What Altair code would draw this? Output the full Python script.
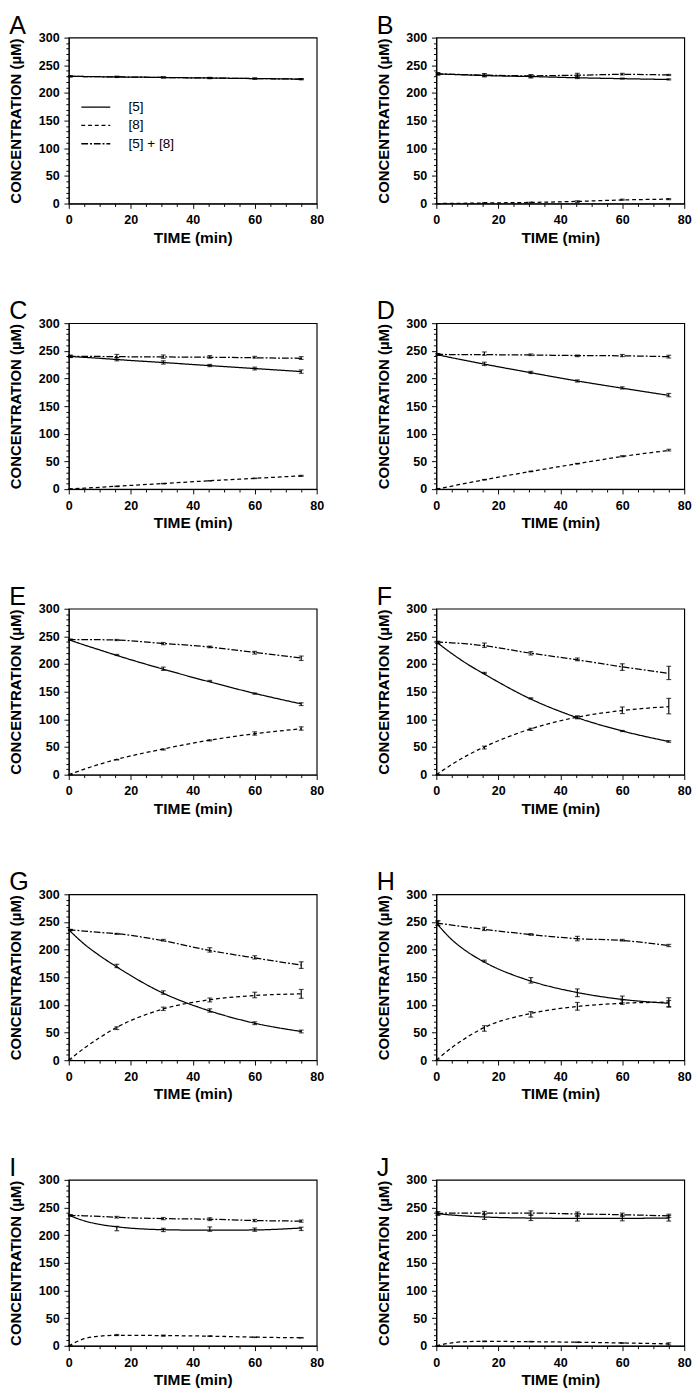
import altair as alt
import pandas as pd

PANELS = ["A", "B", "C", "D", "E", "F", "G", "H", "I", "J"]
SERIES = ["[5]", "[8]", "[5] + [8]"]
T_CURVE = [0, 5, 10, 15, 30, 45, 60, 75]
T_PTS = [0.5, 15.5, 30.5, 45.5, 60, 75]
X_TICKS = list(range(0, 81, 5))
Y_TICKS = list(range(0, 301, 10))

# fitted curves at T_CURVE
CURVE_5 = {
    "A": [230, 229.7, 229.3, 229, 228, 227, 226, 225],
    "B": [234.5, 233.5, 232.5, 231.5, 229.7, 227.5, 225.8, 224.3],
    "C": [240, 238.3, 236.5, 234.5, 229, 223.5, 218, 212.5],
    "D": [243.5, 237.5, 232, 226.5, 211, 196, 182.5, 169.5],
    "E": [244, 234.5, 225.5, 216.5, 191.5, 168.5, 147, 128],
    "F": [240, 219, 200, 183.5, 138, 104, 79, 60],
    "G": [236, 210, 189, 170.5, 122.5, 90, 67, 52],
    "H": [248, 218, 196, 179, 144, 123, 110, 103],
    "I": [236, 226, 219.5, 215.5, 210, 209, 209.5, 213],
    "J": [239, 236.5, 234.5, 233, 231, 230.5, 230.5, 231],
}
CURVE_8 = {
    "A": [],
    "B": [0, 0.3, 0.6, 1, 2, 3.8, 6.5, 8],
    "C": [0, 1.7, 3.3, 5, 10, 15, 19.5, 24],
    "D": [0, 5.5, 11, 16.5, 31.5, 45.5, 59, 70],
    "E": [0, 10, 19, 27, 46, 62, 74, 83],
    "F": [0, 18.5, 35, 49, 82, 103.5, 116, 123],
    "G": [0, 22, 41, 58, 92, 109, 117, 120],
    "H": [0, 23, 42, 58, 84, 97, 103, 105],
    "I": [0, 13, 17.5, 19, 18.5, 17.5, 15.7, 14.5],
    "J": [0, 5.5, 7.5, 8, 7.5, 6.5, 5.2, 3.5],
}
CURVE_SUM = {
    "A": [230, 229.7, 229.3, 229, 228, 227, 226, 225],
    "B": [234.5, 233.7, 233, 232.3, 231, 232, 233.5, 232.5],
    "C": [240, 240, 239.8, 239.5, 239, 238.5, 237.5, 236.5],
    "D": [243.5, 243.3, 243, 243, 242.5, 241.5, 241, 239.5],
    "E": [244, 244, 244, 243.5, 237.5, 231, 221, 211],
    "F": [240, 238.5, 236.5, 233.5, 220, 208, 195, 183],
    "G": [236, 233.5, 231, 229, 216.5, 199, 185, 172],
    "H": [248, 244.5, 240.5, 237, 227.5, 220, 216.5, 207.5],
    "I": [236, 235, 234, 232.5, 230, 229, 226.5, 225.5],
    "J": [239, 240, 240, 240, 240, 238.5, 237, 235],
}

# measured means and errors at T_PTS
MEAN_5 = {
    "A": [230, 229, 228, 227, 226, 225],
    "B": [234.5, 232, 230, 228, 226, 224.5],
    "C": [240, 235, 229, 223.5, 218, 212.5],
    "D": [243.5, 226.5, 211, 195.5, 183, 170],
    "E": [244, 216.5, 191.5, 169.5, 146.5, 127.5],
    "F": [239, 184, 138, 104, 79, 60],
    "G": [235.5, 170.5, 122.5, 90, 67, 52],
    "H": [248, 179.5, 144.5, 122, 110, 105],
    "I": [236, 212, 209.5, 211, 210, 211.5],
    "J": [239, 233.5, 231.5, 230.5, 231, 230.5],
}
ERR_5 = {
    "A": [1, 1, 1, 1, 1, 1],
    "B": [2, 3, 3, 2, 1, 1],
    "C": [2, 3, 3, 2, 2.5, 3],
    "D": [1.5, 3, 2, 2, 2, 3],
    "E": [1, 1, 3, 1, 1, 2.5],
    "F": [2, 1, 1, 2, 1, 1.5],
    "G": [1, 3, 3, 3, 2.5, 2.5],
    "H": [4, 1.5, 5, 7, 6, 8],
    "I": [1, 4, 3, 4, 3, 3],
    "J": [3, 5, 5, 5, 5, 5],
}
MEAN_8 = {
    "A": [],
    "B": [0, 1, 2, 3.5, 7, 8],
    "C": [0, 5, 10, 15, 19.5, 24],
    "D": [0, 17, 32, 46, 59.5, 70.5],
    "E": [0, 27, 45.5, 62, 74.5, 83.5],
    "F": [0, 49, 82, 103.5, 116.5, 124],
    "G": [0, 58, 93, 109, 118, 120],
    "H": [0, 57.5, 83, 97.5, 105, 102],
    "I": [0, 19.5, 18.5, 17.5, 15.5, 14.5],
    "J": [0, 8, 7.5, 6.5, 5, 3.5],
}
ERR_8 = {
    "A": [],
    "B": [0, 0.5, 0.5, 1.5, 1, 1],
    "C": [0, 0.5, 0.5, 0.5, 0.5, 1],
    "D": [0, 0.5, 0.5, 0.5, 1, 1.5],
    "E": [0, 0.5, 1, 1, 3, 3],
    "F": [0, 2.5, 2, 2.5, 6, 14],
    "G": [0, 2.5, 3, 3.5, 5, 8],
    "H": [0, 5, 5, 7, 4, 6],
    "I": [0, 1, 1, 0.5, 0.5, 0.5],
    "J": [0, 0.5, 0.5, 0.5, 0.5, 2],
}
MEAN_SUM = {
    "A": [230, 229, 228, 227, 226, 225],
    "B": [234.5, 232, 230.5, 232, 234, 232.5],
    "C": [240, 240.5, 239.5, 239, 238.5, 237],
    "D": [243.5, 245, 243, 241, 241.5, 239.5],
    "E": [244, 243.5, 237, 231, 220.5, 210.5],
    "F": [239, 234, 219.5, 208.5, 194.5, 184],
    "G": [235.5, 228.5, 217, 199.5, 186, 172],
    "H": [248, 237.5, 227.5, 220, 217, 207.5],
    "I": [236, 232.5, 230, 229, 226.5, 225.5],
    "J": [239.5, 240, 240, 238, 237, 235],
}
ERR_SUM = {
    "A": [1, 1, 1, 1, 1, 1],
    "B": [2, 2, 2, 3.5, 1.5, 1],
    "C": [2, 3, 3, 2.5, 1.5, 2.5],
    "D": [1.5, 3, 1.5, 1.5, 2, 2.5],
    "E": [1, 1, 2, 1.5, 2.5, 4],
    "F": [2, 4, 3, 2.5, 6, 12],
    "G": [1, 1, 1.5, 4, 3, 6],
    "H": [4, 3, 1.5, 4, 1.5, 2],
    "I": [1, 1.5, 2, 2.5, 2, 2],
    "J": [3, 3, 4, 4, 3, 3],
}

DASHES = [[1, 0], [4, 3], [7, 2, 2, 2]]
FONT = "Liberation Sans"
W, H = 257, 172


def make_axis_x():
    return alt.Axis(
        values=X_TICKS,
        labelExpr="datum.value % 20 === 0 ? datum.label : ''",
        tickSize={"condition": {"test": "datum.value % 20 === 0", "value": 5}, "value": 3},
        title="TIME (min)",
        grid=False, domainColor="black", tickColor="black",
        labelFont=FONT, labelFontWeight="bold", labelFontSize=13, labelColor="black",
        titleFont=FONT, titleFontWeight="bold", titleFontSize=16, titleColor="black",
        labelPadding=6, titlePadding=3, labelOverlap=False, labelFlush=False,
    )


def make_axis_y():
    return alt.Axis(
        values=Y_TICKS,
        labelExpr="datum.value % 50 === 0 ? datum.label : ''",
        tickSize={"condition": {"test": "datum.value % 50 === 0", "value": 5}, "value": 3},
        title="CONCENTRATION (\u00b5M)",
        grid=False, domainColor="black", tickColor="black",
        labelFont=FONT, labelFontWeight="bold", labelFontSize=13, labelColor="black",
        titleFont=FONT, titleFontWeight="bold", titleFontSize=15.5, titleColor="black",
        labelPadding=5, titlePadding=15, labelOverlap=False, labelFlush=False,
    )


def panel(p):
    crow, prow = [], []
    curves = [CURVE_5[p], CURVE_8[p], CURVE_SUM[p]]
    means = [MEAN_5[p], MEAN_8[p], MEAN_SUM[p]]
    errs = [ERR_5[p], ERR_8[p], ERR_SUM[p]]
    for s, cur in zip(SERIES, curves):
        for t, v in zip(T_CURVE, cur):
            crow.append({"t": t, "v": v, "s": s})
    for s, m, e in zip(SERIES, means, errs):
        for t, v, er in zip(T_PTS, m, e):
            prow.append({"t": t, "lo": v - er, "hi": v + er, "s": s})
    cdf = pd.DataFrame(crow)
    pdf = pd.DataFrame(prow)

    xs = alt.Scale(domain=[0, 80], nice=False, zero=False)
    ys = alt.Scale(domain=[0, 300], nice=False)

    if p == "A":
        legend = alt.Legend(
            orient="none", legendX=21, legendY=65, title=None,
            symbolType="M-3,0L3,0", symbolSize=100, symbolStrokeWidth=1.3,
            symbolStrokeColor="black", labelFont=FONT, labelFontSize=14,
            labelColor="black", labelOffset=27, rowPadding=5,
        )
    else:
        legend = None

    lines = alt.Chart(cdf).mark_line(
        color="black", strokeWidth=1.3, interpolate="monotone"
    ).encode(
        x=alt.X("t:Q", scale=xs, axis=make_axis_x()),
        y=alt.Y("v:Q", scale=ys, axis=make_axis_y()),
        strokeDash=alt.StrokeDash(
            "s:N", scale=alt.Scale(domain=SERIES, range=DASHES), legend=legend
        ),
    )
    bars = alt.Chart(pdf).mark_rule(color="black", strokeWidth=1.2).encode(
        x=alt.X("t:Q", scale=xs, axis=make_axis_x()),
        y=alt.Y("lo:Q", scale=ys, axis=make_axis_y()),
        y2="hi:Q",
    )
    cap_lo = alt.Chart(pdf).mark_tick(
        color="black", orient="horizontal", size=5, thickness=1.2
    ).encode(
        x=alt.X("t:Q", scale=xs, axis=make_axis_x()),
        y=alt.Y("lo:Q", scale=ys, axis=make_axis_y()),
    )
    cap_hi = alt.Chart(pdf).mark_tick(
        color="black", orient="horizontal", size=5, thickness=1.2
    ).encode(
        x=alt.X("t:Q", scale=xs, axis=make_axis_x()),
        y=alt.Y("hi:Q", scale=ys, axis=make_axis_y()),
    )
    return alt.layer(lines, bars, cap_lo, cap_hi).properties(
        width=W, height=H,
        title=alt.TitleParams(
            text=p, anchor="start", frame="bounds", fontSize=26, font=FONT,
            fontWeight="normal", color="black", offset=-7,
        ),
    )


chart = alt.concat(
    *[panel(p) for p in PANELS], columns=2,
    spacing={"row": 54, "column": 53},
).resolve_scale(strokeDash="independent").resolve_legend(
    strokeDash="independent"
).configure(
    padding={"left": 0, "top": -21, "right": 0, "bottom": 2},
    background="white",
).configure_view(stroke="black", strokeWidth=1.2)

chart.save("out.html", embed_options={"renderer": "svg", "actions": False})
